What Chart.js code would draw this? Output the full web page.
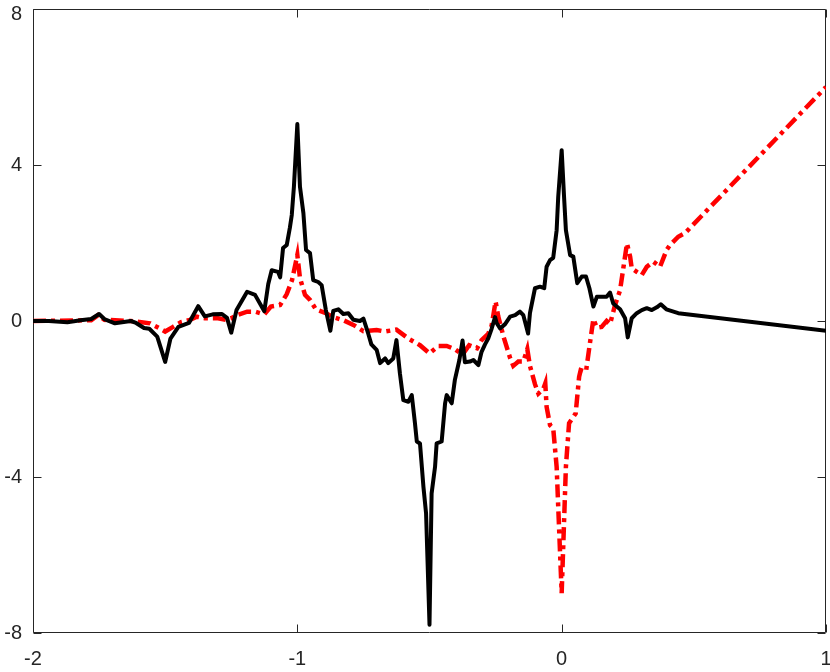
<!DOCTYPE html>
<html><head><meta charset="utf-8">
<script src="https://cdn.jsdelivr.net/npm/chart.js@4.4.1/dist/chart.umd.min.js"></script>
<style>html,body{margin:0;padding:0;background:#fff;} #wrap{width:830px;height:672px;}</style>
</head><body><div id="wrap"><canvas id="c" width="830" height="672"></canvas></div>
<script>
const xTicks = [-2, -1, 0, 1];
const yTicks = [-8, -4, 0, 4, 8];

const blackX = [-2,-1.94,-1.87,-1.82,-1.78,-1.75,-1.73,-1.69,-1.63,-1.61,-1.58,-1.56,-1.53,-1.5,-1.48,-1.45,-1.41,-1.375,-1.35,-1.32,-1.285,-1.266,-1.25,-1.23,-1.19,-1.16,-1.125,-1.11,-1.097,-1.073,-1.065,-1.054,-1.04,-1.028,-1.021,-1.013,-1.0,-0.99,-0.977,-0.967,-0.952,-0.94,-0.921,-0.908,-0.892,-0.875,-0.864,-0.845,-0.826,-0.807,-0.788,-0.763,-0.75,-0.732,-0.72,-0.70,-0.687,-0.668,-0.656,-0.637,-0.625,-0.612,-0.599,-0.58,-0.567,-0.555,-0.548,-0.536,-0.523,-0.513,-0.5,-0.492,-0.479,-0.473,-0.454,-0.441,-0.435,-0.416,-0.404,-0.387,-0.375,-0.366,-0.347,-0.334,-0.315,-0.303,-0.29,-0.278,-0.265,-0.252,-0.246,-0.233,-0.214,-0.195,-0.176,-0.158,-0.145,-0.127,-0.12,-0.101,-0.082,-0.066,-0.057,-0.044,-0.032,-0.019,-0.013,0,0.009,0.016,0.032,0.044,0.059,0.076,0.092,0.105,0.12,0.133,0.151,0.17,0.183,0.195,0.221,0.24,0.25,0.265,0.284,0.303,0.322,0.341,0.36,0.375,0.396,0.441,1.0];
const blackY = [0,0,-0.03,0.02,0.05,0.18,0.05,-0.06,0,-0.05,-0.18,-0.2,-0.4,-1.05,-0.45,-0.15,-0.05,0.38,0.12,0.17,0.18,0.08,-0.3,0.28,0.75,0.67,0.25,0.95,1.3,1.26,1.12,1.87,1.95,2.4,2.72,3.44,5.05,3.44,2.76,1.82,1.74,1.05,1.0,0.92,0.28,-0.25,0.26,0.3,0.18,0.2,0.03,0,0.06,-0.32,-0.6,-0.74,-1.08,-0.96,-1.08,-0.96,-0.49,-1.34,-2.03,-2.07,-1.9,-2.62,-3.09,-3.14,-4.25,-4.93,-7.79,-4.42,-3.74,-3.14,-3.09,-2.11,-1.9,-2.11,-1.51,-1.0,-0.5,-1.06,-1.04,-1.0,-1.13,-0.79,-0.6,-0.45,-0.2,0.1,-0.05,-0.19,-0.08,0.11,0.15,0.24,0.15,-0.32,0.2,0.84,0.88,0.84,1.39,1.56,1.62,2.33,3.19,4.38,3.19,2.33,1.69,1.65,0.97,1.14,1.14,0.84,0.37,0.62,0.62,0.62,0.73,0.45,0.3,0.07,-0.42,0.07,0.2,0.28,0.33,0.28,0.35,0.43,0.3,0.2,-0.25];

const redX = [-2,-1.78,-1.754,-1.73,-1.63,-1.557,-1.52,-1.5,-1.47,-1.44,-1.406,-1.38,-1.35,-1.3,-1.27,-1.25,-1.229,-1.19,-1.16,-1.125,-1.1,-1.065,-1.04,-1.02,-1.0,-0.99,-0.971,-0.952,-0.93,-0.892,-0.864,-0.826,-0.788,-0.75,-0.70,-0.668,-0.625,-0.58,-0.536,-0.5,-0.467,-0.435,-0.405,-0.375,-0.35,-0.32,-0.303,-0.278,-0.265,-0.25,-0.24,-0.22,-0.195,-0.183,-0.164,-0.145,-0.13,-0.12,-0.101,-0.088,-0.07,-0.062,-0.057,-0.044,-0.032,-0.019,0,0.016,0.028,0.053,0.066,0.072,0.092,0.105,0.12,0.133,0.151,0.17,0.183,0.202,0.221,0.236,0.247,0.259,0.265,0.284,0.303,0.322,0.347,0.372,0.397,0.41,0.441,0.466,1.0];
const redY = [0,0.02,0.15,0.03,0,-0.06,-0.19,-0.27,-0.15,-0.03,0.03,0.11,0.07,0.07,0.03,0.07,0.15,0.24,0.24,0.17,0.37,0.41,0.69,1.05,1.69,1.1,0.67,0.54,0.3,0.2,0.1,0.02,-0.1,-0.26,-0.23,-0.27,-0.22,-0.45,-0.62,-0.83,-0.64,-0.64,-0.72,-0.86,-0.62,-0.7,-0.49,-0.33,-0.12,0.5,0.12,-0.4,-0.95,-1.15,-1.04,-1.04,-0.72,-1.15,-1.62,-1.86,-1.75,-1.6,-2.2,-2.67,-2.75,-3.74,-6.98,-3.74,-2.62,-2.37,-1.43,-1.26,-1.3,-0.66,0.05,-0.17,-0.15,0,-0.08,0.41,0.79,1.48,1.99,1.65,1.35,1.26,1.18,1.39,1.52,1.39,1.82,1.95,2.16,2.25,6.0];

const toPts = (xs, ys) => xs.map((x, i) => ({x: x, y: ys[i]}));
const AX = '#262626';
const FAMILY = '"Liberation Sans", Arial, Helvetica, sans-serif';
const FONT = {family: FAMILY, size: 20};

const boxPlugin = {
  id: 'boxTicks',
  beforeDatasetsDraw(chart) {
    const {ctx, chartArea: {left, right, top, bottom}, scales: {x, y}} = chart;
    ctx.save();
    ctx.strokeStyle = AX;
    ctx.lineWidth = 1;
    const L = Math.round(left) + 0.5, R = Math.round(right) - 0.5;
    const T = Math.round(top) + 0.5, B = Math.round(bottom) - 0.5;
    ctx.beginPath();
    ctx.rect(L, T, R - L, B - T);
    xTicks.forEach(v => {
      const p = Math.round(x.getPixelForValue(v)) + 0.5;
      ctx.moveTo(p, B); ctx.lineTo(p, B - 8);
      ctx.moveTo(p, T); ctx.lineTo(p, T + 8);
    });
    yTicks.forEach(v => {
      const p = Math.round(y.getPixelForValue(v)) + 0.5;
      ctx.moveTo(L, p); ctx.lineTo(L + 8, p);
      ctx.moveTo(R, p); ctx.lineTo(R - 8, p);
    });
    ctx.stroke();
    // y tick labels (kept inside the canvas at the top)
    ctx.fillStyle = AX;
    ctx.font = '20px ' + FAMILY;
    ctx.textAlign = 'right';
    ctx.textBaseline = 'middle';
    yTicks.forEach(v => {
      const p = Math.max(y.getPixelForValue(v), 14);
      ctx.fillText(String(v), left - 11, p);
    });
    ctx.restore();
  }
};

new Chart(document.getElementById('c'), {
  type: 'line',
  data: {
    datasets: [
      {data: toPts(blackX, blackY), borderColor: '#000000', borderWidth: 4, pointRadius: 0, tension: 0, fill: false, borderJoinStyle: 'round'},
      {data: toPts(redX, redY), borderColor: '#ff0000', borderWidth: 4.5, pointRadius: 0, tension: 0, fill: false, borderDash: [13, 5, 4, 5]}
    ]
  },
  options: {
    responsive: false,
    animation: false,
    devicePixelRatio: 1,
    layout: {padding: {top: 9, right: 4, left: 0, bottom: 0}},
    plugins: {legend: {display: false}, tooltip: {enabled: false}},
    scales: {
      x: {
        type: 'linear', min: -2, max: 1,
        afterBuildTicks: s => { s.ticks = xTicks.map(v => ({value: v})); },
        afterFit: s => { s.height = 39; s.paddingLeft = 0; s.paddingRight = 0; },
        grid: {display: false, drawTicks: false},
        border: {display: false},
        ticks: {font: FONT, color: AX, padding: 14, maxRotation: 0, autoSkip: false}
      },
      y: {
        type: 'linear', min: -8, max: 8,
        afterBuildTicks: s => { s.ticks = yTicks.map(v => ({value: v})); },
        afterFit: s => { s.width = 33; s.paddingTop = 0; s.paddingBottom = 0; },
        grid: {display: false, drawTicks: false},
        border: {display: false},
        ticks: {display: false}
      }
    }
  },
  plugins: [boxPlugin]
});
</script></body></html>
